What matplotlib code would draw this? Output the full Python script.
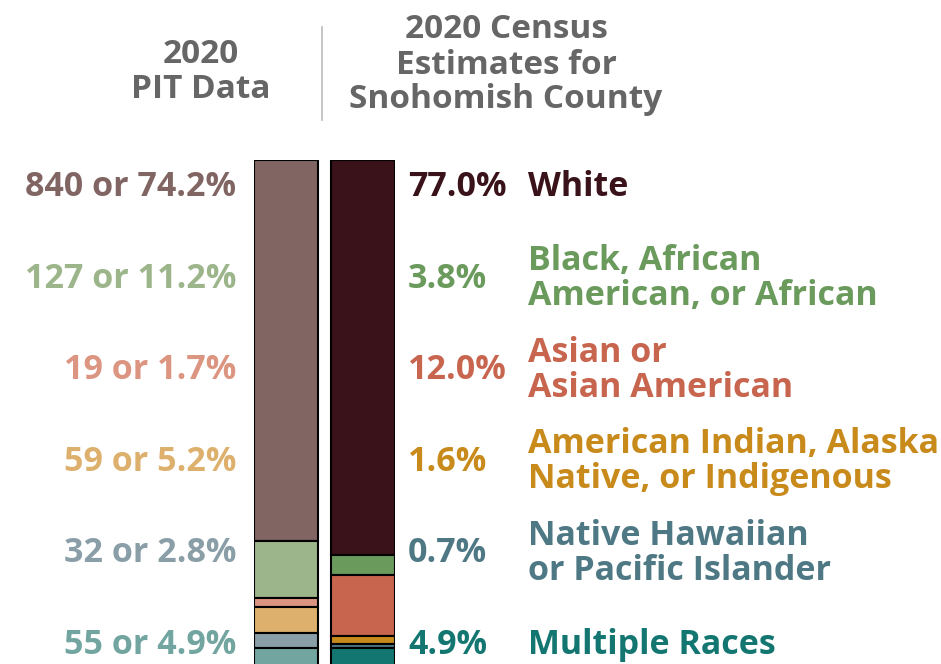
import matplotlib
matplotlib.use("Agg")
import matplotlib.pyplot as plt
import numpy as np

categories = ["White", "Black, African\nAmerican, or African", "Asian or\nAsian American",
              "American Indian, Alaska\nNative, or Indigenous", "Native Hawaiian\nor Pacific Islander",
              "Multiple Races"]
pit_counts = [840, 127, 19, 59, 32, 55]
pit_pct = [74.2, 11.2, 1.7, 5.2, 2.8, 4.9]
census_pct = [77.0, 3.8, 12.0, 1.6, 0.7, 4.9]
pit_colors = ["#806563", "#9db58a", "#db9580", "#ddb06e", "#8a9ea8", "#72a5a0"]
census_colors = ["#3a1219", "#6a9a5c", "#c8654e", "#c88a1a", "#4e7884", "#137670"]
bar_names = ["2020\nPIT Data", "2020 Census\nEstimates for\nSnohomish County"]

W, H = 941, 664
fig = plt.figure(figsize=(W / 100, H / 100), dpi=100)
font = "Open Sans"

# bar axes: pixel coords x 254..395, y 160..673 (extends below figure)
x0, x1, ytop, ybot = 254, 395, 160, 673
ax = fig.add_axes([x0 / W, (H - ybot) / H, (x1 - x0) / W, (ybot - ytop) / H])
bw = 64 / 77
for xi, vals, cols in [(0, pit_pct, pit_colors), (1, census_pct, census_colors)]:
    bottoms = np.concatenate([[0], np.cumsum(vals)[:-1]])
    ax.bar([xi] * len(vals), vals, bottom=bottoms, width=bw, color=cols,
           edgecolor="black", linewidth=1.5)
ax.set_xlim(-bw / 2, 1 + bw / 2)
ax.set_ylim(100, 0)
ax.axis("off")

# labels
fs = 24.5
ys = [187 + i * 91.6 for i in range(6)]
for i in range(6):
    fy = 1 - ys[i] / H
    fig.text(236 / W, fy, f"{pit_counts[i]} or {pit_pct[i]:.1f}%", ha="right", va="center",
             color=pit_colors[i], fontsize=fs, fontweight="bold", family=font)
    fig.text(408 / W, fy, f"{census_pct[i]:.1f}%", ha="left", va="center",
             color=census_colors[i], fontsize=fs, fontweight="bold", family=font)
    fig.text(528 / W, fy, categories[i], ha="left", va="center", linespacing=1.03,
             color=census_colors[i], fontsize=fs, fontweight="bold", family=font)

# headers
fig.text(201 / W, 1 - 72 / H, bar_names[0], ha="center", va="center", color="#666666",
         fontsize=24, fontweight="bold", family=font, linespacing=1.08)
fig.text(506 / W, 1 - 65 / H, bar_names[1], ha="center", va="center", color="#666666",
         fontsize=24, fontweight="bold", family=font, linespacing=1.08)
fig.add_artist(plt.Line2D([322 / W, 322 / W], [1 - 27 / H, 1 - 120 / H],
                          color="#bbbbbb", linewidth=1.2, transform=fig.transFigure))

fig.savefig("out.png", dpi=100)
